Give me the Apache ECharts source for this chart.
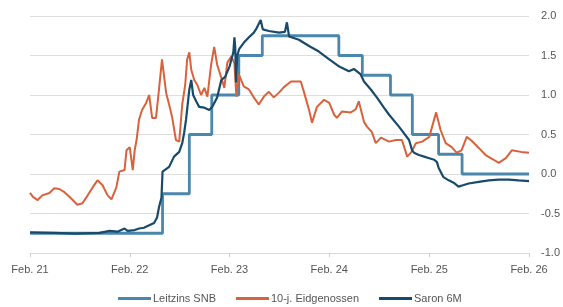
<!DOCTYPE html>
<html>
<head>
<meta charset="utf-8">
<script src="https://cdn.jsdelivr.net/npm/echarts@6/dist/echarts.min.js"></script>
<style>
  html, body { margin: 0; padding: 0; background: #fff; }
  #chart { width: 563px; height: 307px; }
</style>
</head>
<body>
<div id="chart"></div>
<script>
// Leitzins SNB (step changes)
const snbDates = ['2021-02-01', '2022-06-01', '2022-09-07', '2022-11-28', '2023-03-07', '2023-06-01',
  '2024-03-07', '2024-06-01', '2024-09-12', '2024-12-01', '2025-03-07', '2025-06-01', '2026-02-01'];
const snbValues = [-0.75, -0.25, 0.5, 1.0, 1.5, 1.75, 1.5, 1.25, 1.0, 0.5, 0.25, 0.0, 0.0];

// 10-j. Eidgenossen
const bondDates = ['2021-02-01', '2021-02-12', '2021-03-01', '2021-03-18', '2021-04-13', '2021-05-01',
  '2021-05-19', '2021-06-07', '2021-07-02', '2021-07-24', '2021-08-12', '2021-08-31', '2021-09-18',
  '2021-10-06', '2021-10-24', '2021-11-12', '2021-11-26', '2021-12-14', '2021-12-25', '2022-01-13',
  '2022-01-20', '2022-02-01', '2022-02-12', '2022-02-19', '2022-02-26', '2022-03-07', '2022-03-18',
  '2022-04-02', '2022-04-13', '2022-04-24', '2022-05-08', '2022-05-19', '2022-05-30', '2022-06-14',
  '2022-06-25', '2022-07-06', '2022-07-20', '2022-08-01', '2022-08-12', '2022-08-23', '2022-08-30',
  '2022-09-07', '2022-09-14', '2022-09-25', '2022-10-06', '2022-10-20', '2022-11-01', '2022-11-12',
  '2022-11-26', '2022-12-07', '2022-12-18', '2023-01-02', '2023-01-13', '2023-01-24', '2023-02-08',
  '2023-02-19', '2023-02-26', '2023-03-07', '2023-03-25', '2023-04-13', '2023-05-01', '2023-05-19',
  '2023-06-07', '2023-06-25', '2023-07-13', '2023-08-01', '2023-08-19', '2023-09-14', '2023-10-20',
  '2023-11-01', '2023-11-19', '2023-11-30', '2023-12-18', '2024-01-13', '2024-02-01', '2024-02-19',
  '2024-02-29', '2024-03-18', '2024-04-20', '2024-05-08', '2024-05-19', '2024-06-07', '2024-06-18',
  '2024-07-06', '2024-07-20', '2024-08-08', '2024-09-07', '2024-10-02', '2024-10-24', '2024-11-12',
  '2024-11-26', '2024-12-14', '2025-01-06', '2025-02-01', '2025-02-26', '2025-03-14', '2025-04-02',
  '2025-04-24', '2025-05-12', '2025-05-30', '2025-06-18', '2025-07-06', '2025-08-01', '2025-08-26',
  '2025-09-25', '2025-10-13', '2025-11-08', '2025-11-30', '2026-01-02', '2026-02-01'];
const bondValues = [-0.24, -0.29, -0.33, -0.27, -0.24, -0.18,
  -0.19, -0.23, -0.31, -0.39, -0.37, -0.27, -0.17,
  -0.08, -0.14, -0.27, -0.32, -0.17, 0.03, 0.05,
  0.30, 0.34, 0.05, 0.30, 0.43, 0.69, 0.81,
  0.90, 1.00, 0.71, 0.71, 1.07, 1.45, 1.03,
  0.88, 0.72, 0.43, 0.41, 0.88, 1.13, 1.45,
  1.54, 1.32, 1.19, 1.13, 1.00, 1.09, 0.98,
  1.39, 1.61, 1.38, 1.22, 1.09, 1.41, 1.49,
  1.40, 0.98, 1.26, 1.11, 1.07, 0.97, 0.88,
  0.98, 1.04, 0.97, 1.03, 1.10, 1.17, 1.17,
  1.03, 0.81, 0.65, 0.85, 0.94, 0.90, 0.75,
  0.71, 0.79, 0.78, 0.82, 0.92, 0.66, 0.60,
  0.53, 0.39, 0.46, 0.41, 0.43, 0.43, 0.22,
  0.27, 0.39, 0.41, 0.47, 0.78, 0.56, 0.39,
  0.34, 0.27, 0.30, 0.47, 0.42, 0.33, 0.24,
  0.18, 0.14, 0.20, 0.30, 0.28, 0.27];

// Saron 6M
const saronDates = ['2021-02-01', '2021-05-01', '2021-07-16', '2021-10-13', '2021-11-19', '2021-12-18',
  '2022-01-13', '2022-01-24', '2022-02-19', '2022-03-07', '2022-03-25', '2022-04-13', '2022-05-01',
  '2022-05-12', '2022-05-19', '2022-05-28', '2022-06-01', '2022-06-07', '2022-06-25', '2022-07-13',
  '2022-08-01', '2022-08-12', '2022-08-19', '2022-08-26', '2022-09-07', '2022-09-14', '2022-09-21',
  '2022-10-02', '2022-10-13', '2022-11-01', '2022-11-19', '2022-11-30', '2022-12-18', '2023-01-02',
  '2023-01-16', '2023-02-01', '2023-02-15', '2023-02-19', '2023-02-22', '2023-02-25', '2023-03-01',
  '2023-03-08', '2023-03-25', '2023-04-13', '2023-05-01', '2023-05-12', '2023-05-26', '2023-06-03',
  '2023-06-25', '2023-08-01', '2023-08-23', '2023-08-30', '2023-09-07', '2023-10-13', '2023-11-19',
  '2023-12-25', '2024-02-01', '2024-02-29', '2024-03-14', '2024-04-13', '2024-05-01', '2024-05-26',
  '2024-06-07', '2024-07-02', '2024-07-24', '2024-08-19', '2024-09-07', '2024-10-13', '2024-11-19',
  '2024-11-30', '2024-12-07', '2024-12-25', '2025-01-13', '2025-02-01', '2025-02-19', '2025-03-01',
  '2025-03-07', '2025-03-25', '2025-04-13', '2025-05-01', '2025-05-19', '2025-06-07', '2025-06-25',
  '2025-08-01', '2025-09-07', '2025-10-13', '2025-11-19', '2025-12-25', '2026-02-01'];
const saronValues = [-0.74, -0.745, -0.755, -0.745, -0.72, -0.73,
  -0.69, -0.72, -0.71, -0.69, -0.68, -0.65, -0.62,
  -0.55, -0.42, -0.30, 0.03, 0.05, 0.09, 0.22,
  0.28, 0.39, 0.52, 0.69, 1.07, 1.19, 1.00,
  0.92, 0.85, 0.84, 0.81, 0.85, 0.97, 1.19,
  1.23, 1.36, 1.54, 1.73, 1.60, 1.16, 1.49,
  1.58, 1.66, 1.73, 1.79, 1.85, 1.95, 1.83,
  1.81, 1.79, 1.80, 1.92, 1.74, 1.70, 1.62,
  1.55, 1.45, 1.38, 1.35, 1.30, 1.33, 1.26,
  1.17, 1.07, 0.97, 0.84, 0.75, 0.60, 0.43,
  0.30, 0.27, 0.24, 0.22, 0.20, 0.18, 0.15,
  0.08, -0.04, -0.08, -0.11, -0.16, -0.14, -0.12,
  -0.10, -0.08, -0.07, -0.07, -0.08, -0.09];

const tickDates = ['2021-02-01', '2022-02-01', '2023-02-01', '2024-02-01', '2025-02-01', '2026-02-01'];

const ms = d => Date.parse(d);
const tickValues = tickDates.map(ms);
const zip = (d, v) => d.map((x, i) => [ms(x), v[i]]);
const fontFamily = 'Liberation Sans, Arial, sans-serif';

const chart = echarts.init(document.getElementById('chart'));
chart.setOption({
  animation: false,
  textStyle: { fontFamily: fontFamily },
  grid: { left: 30, right: 32, top: 16, bottom: 54 },
  xAxis: [
    {
      type: 'value',
      min: tickValues[0],
      max: tickValues[tickValues.length - 1],
      axisLine: { show: false },
      axisTick: { show: false },
      splitLine: { show: false },
      axisLabel: {
        customValues: tickValues,
        color: '#555',
        fontSize: 11,
        margin: 11,
        formatter: v => 'Feb. ' + String(new Date(v).getUTCFullYear()).slice(2)
      }
    },
    {
      type: 'value',
      min: tickValues[0],
      max: tickValues[tickValues.length - 1],
      position: 'bottom',
      axisLine: { show: true, onZero: true, lineStyle: { color: '#d9d9d9', width: 1 } },
      axisTick: { show: true, customValues: tickValues, length: 4, lineStyle: { color: '#cfcfcf' } },
      axisLabel: { show: false },
      splitLine: { show: false }
    }
  ],
  yAxis: {
    type: 'value',
    position: 'right',
    min: -1,
    max: 2,
    interval: 0.5,
    axisLine: { show: false },
    axisTick: { show: false },
    splitLine: { lineStyle: { color: '#dedede', width: 1 } },
    axisLabel: {
      color: '#555',
      fontSize: 11,
      margin: 12,
      formatter: v => v.toFixed(1)
    }
  },
  legend: {
    bottom: 3,
    left: 118,
    padding: 0,
    icon: 'rect',
    itemWidth: 33,
    itemHeight: 3,
    itemGap: 20,
    textStyle: { color: '#555', fontSize: 11, padding: [0, 0, 0, -3] },
    data: ['Leitzins SNB', '10-j. Eidgenossen', 'Saron 6M']
  },
  series: [
    {
      name: 'Leitzins SNB',
      type: 'line',
      step: 'end',
      showSymbol: false,
      data: zip(snbDates, snbValues),
      itemStyle: { color: '#4a87ad' },
      lineStyle: { color: '#4a87ad', width: 2.8 }
    },
    {
      name: '10-j. Eidgenossen',
      type: 'line',
      showSymbol: false,
      data: zip(bondDates, bondValues),
      itemStyle: { color: '#d8623c' },
      lineStyle: { color: '#d8623c', width: 2 }
    },
    {
      name: 'Saron 6M',
      type: 'line',
      showSymbol: false,
      data: zip(saronDates, saronValues),
      itemStyle: { color: '#174a6c' },
      lineStyle: { color: '#174a6c', width: 2.2 }
    }
  ]
});
</script>
</body>
</html>
